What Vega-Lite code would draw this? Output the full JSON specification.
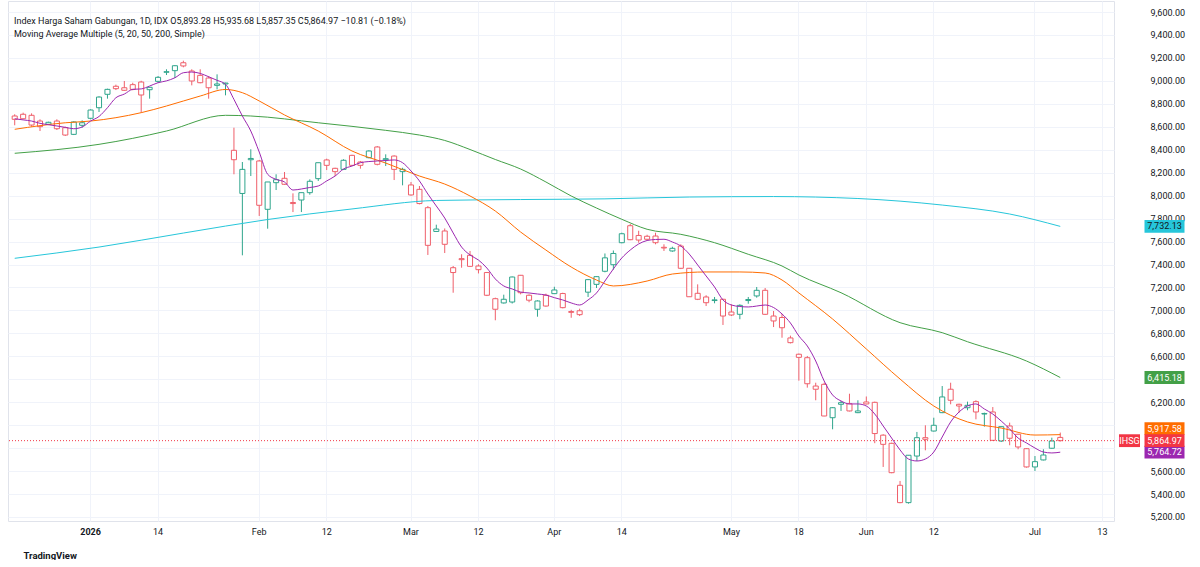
{
  "$schema": "https://vega.github.io/schema/vega-lite/v6.json",
  "background": "white",
  "padding": {"left": 7, "top": 0, "right": 0, "bottom": 0},
  "spacing": 0,
  "config": {"font": "Roboto", "view": {"stroke": null}},
  "resolve": {"scale": {"y": "shared", "color": "shared"}},
  "datasets": {
    "candles": [
      {"date":"2025-12-16","open":8694,"high":8709,"low":8613,"close":8665},
      {"date":"2025-12-17","open":8709,"high":8723,"low":8665,"close":8670},
      {"date":"2025-12-18","open":8700,"high":8717,"low":8601,"close":8615},
      {"date":"2025-12-19","open":8650,"high":8665,"low":8563,"close":8601},
      {"date":"2025-12-22","open":8622,"high":8644,"low":8615,"close":8639},
      {"date":"2025-12-23","open":8650,"high":8665,"low":8572,"close":8583},
      {"date":"2025-12-24","open":8592,"high":8601,"low":8520,"close":8528},
      {"date":"2025-12-29","open":8534,"high":8648,"low":8528,"close":8642},
      {"date":"2025-12-30","open":8613,"high":8656,"low":8592,"close":8635},
      {"date":"2026-01-02","open":8674,"high":8752,"low":8665,"close":8746},
      {"date":"2026-01-05","open":8766,"high":8866,"low":8729,"close":8859},
      {"date":"2026-01-06","open":8883,"high":8932,"low":8845,"close":8926},
      {"date":"2026-01-07","open":8953,"high":8967,"low":8920,"close":8932},
      {"date":"2026-01-08","open":8940,"high":8999,"low":8914,"close":8918},
      {"date":"2026-01-09","open":8967,"high":8984,"low":8918,"close":8926},
      {"date":"2026-01-12","open":8990,"high":9001,"low":8723,"close":8877},
      {"date":"2026-01-13","open":8923,"high":8947,"low":8845,"close":8944},
      {"date":"2026-01-14","open":8996,"high":9042,"low":8984,"close":9031},
      {"date":"2026-01-15","open":9075,"high":9101,"low":9051,"close":9080},
      {"date":"2026-01-19","open":9089,"high":9136,"low":9025,"close":9132},
      {"date":"2026-01-20","open":9158,"high":9176,"low":9118,"close":9130},
      {"date":"2026-01-21","open":9086,"high":9101,"low":8961,"close":8999},
      {"date":"2026-01-22","open":9048,"high":9101,"low":8979,"close":8984},
      {"date":"2026-01-23","open":9025,"high":9042,"low":8845,"close":8940},
      {"date":"2026-01-26","open":8961,"high":9057,"low":8926,"close":8973},
      {"date":"2026-01-27","open":8973,"high":8984,"low":8874,"close":8981},
      {"date":"2026-01-28","open":8395,"high":8592,"low":8186,"close":8313},
      {"date":"2026-01-29","open":8019,"high":8293,"low":7480,"close":8229},
      {"date":"2026-01-30","open":8313,"high":8404,"low":8171,"close":8324},
      {"date":"2026-02-02","open":8302,"high":8311,"low":7823,"close":7916},
      {"date":"2026-02-03","open":7881,"high":8119,"low":7712,"close":8119},
      {"date":"2026-02-04","open":8113,"high":8186,"low":8049,"close":8139},
      {"date":"2026-02-05","open":8151,"high":8206,"low":8093,"close":8099},
      {"date":"2026-02-06","open":7940,"high":8020,"low":7857,"close":7931},
      {"date":"2026-02-09","open":7962,"high":8026,"low":7857,"close":8026},
      {"date":"2026-02-10","open":8026,"high":8142,"low":8008,"close":8125},
      {"date":"2026-02-11","open":8148,"high":8287,"low":8128,"close":8287},
      {"date":"2026-02-12","open":8311,"high":8322,"low":8223,"close":8264},
      {"date":"2026-02-13","open":8238,"high":8243,"low":8171,"close":8209},
      {"date":"2026-02-18","open":8229,"high":8317,"low":8223,"close":8308},
      {"date":"2026-02-19","open":8351,"high":8356,"low":8258,"close":8264},
      {"date":"2026-02-20","open":8293,"high":8302,"low":8235,"close":8264},
      {"date":"2026-02-23","open":8331,"high":8395,"low":8325,"close":8389},
      {"date":"2026-02-24","open":8424,"high":8432,"low":8264,"close":8273},
      {"date":"2026-02-25","open":8313,"high":8360,"low":8258,"close":8322},
      {"date":"2026-02-26","open":8345,"high":8351,"low":8136,"close":8229},
      {"date":"2026-02-27","open":8209,"high":8243,"low":8090,"close":8229},
      {"date":"2026-03-02","open":8093,"high":8119,"low":8000,"close":8006},
      {"date":"2026-03-03","open":8055,"high":8084,"low":7924,"close":7931},
      {"date":"2026-03-04","open":7895,"high":7910,"low":7483,"close":7567},
      {"date":"2026-03-05","open":7688,"high":7747,"low":7684,"close":7709},
      {"date":"2026-03-06","open":7692,"high":7714,"low":7500,"close":7576},
      {"date":"2026-03-09","open":7372,"high":7387,"low":7154,"close":7330},
      {"date":"2026-03-10","open":7451,"high":7489,"low":7372,"close":7442},
      {"date":"2026-03-11","open":7480,"high":7518,"low":7378,"close":7384},
      {"date":"2026-03-12","open":7387,"high":7402,"low":7322,"close":7355},
      {"date":"2026-03-13","open":7330,"high":7335,"low":7125,"close":7132},
      {"date":"2026-03-16","open":7102,"high":7111,"low":6914,"close":7010},
      {"date":"2026-03-17","open":7065,"high":7137,"low":7060,"close":7097},
      {"date":"2026-03-25","open":7073,"high":7295,"low":7060,"close":7291},
      {"date":"2026-03-26","open":7306,"high":7309,"low":7140,"close":7154},
      {"date":"2026-03-27","open":7132,"high":7140,"low":7071,"close":7089},
      {"date":"2026-03-30","open":7010,"high":7088,"low":6945,"close":7082},
      {"date":"2026-03-31","open":7132,"high":7146,"low":7032,"close":7038},
      {"date":"2026-04-01","open":7146,"high":7206,"low":7143,"close":7178},
      {"date":"2026-04-02","open":7147,"high":7154,"low":7018,"close":7024},
      {"date":"2026-04-06","open":6990,"high":7005,"low":6936,"close":6983},
      {"date":"2026-04-07","open":6997,"high":7015,"low":6951,"close":6963},
      {"date":"2026-04-08","open":7159,"high":7274,"low":7117,"close":7268},
      {"date":"2026-04-09","open":7227,"high":7297,"low":7195,"close":7294},
      {"date":"2026-04-10","open":7341,"high":7496,"low":7332,"close":7458},
      {"date":"2026-04-13","open":7398,"high":7522,"low":7355,"close":7496},
      {"date":"2026-04-14","open":7590,"high":7677,"low":7585,"close":7668},
      {"date":"2026-04-15","open":7738,"high":7753,"low":7612,"close":7616},
      {"date":"2026-04-16","open":7653,"high":7694,"low":7590,"close":7613},
      {"date":"2026-04-17","open":7646,"high":7659,"low":7611,"close":7620},
      {"date":"2026-04-20","open":7648,"high":7677,"low":7576,"close":7590},
      {"date":"2026-04-21","open":7550,"high":7576,"low":7518,"close":7544},
      {"date":"2026-04-22","open":7518,"high":7555,"low":7511,"close":7541},
      {"date":"2026-04-23","open":7561,"high":7576,"low":7360,"close":7367},
      {"date":"2026-04-24","open":7367,"high":7370,"low":7117,"close":7119},
      {"date":"2026-04-27","open":7149,"high":7227,"low":7090,"close":7097},
      {"date":"2026-04-28","open":7117,"high":7132,"low":7038,"close":7067},
      {"date":"2026-04-29","open":7086,"high":7117,"low":7062,"close":7092},
      {"date":"2026-04-30","open":7097,"high":7100,"low":6873,"close":6951},
      {"date":"2026-05-04","open":6986,"high":7053,"low":6951,"close":6960},
      {"date":"2026-05-05","open":6966,"high":7053,"low":6923,"close":7044},
      {"date":"2026-05-06","open":7086,"high":7117,"low":7058,"close":7095},
      {"date":"2026-05-07","open":7126,"high":7204,"low":7111,"close":7175},
      {"date":"2026-05-08","open":7175,"high":7195,"low":6960,"close":6966},
      {"date":"2026-05-11","open":6951,"high":6995,"low":6855,"close":6908},
      {"date":"2026-05-12","open":6938,"high":6969,"low":6762,"close":6849},
      {"date":"2026-05-13","open":6760,"high":6780,"low":6712,"close":6719},
      {"date":"2026-05-18","open":6618,"high":6624,"low":6388,"close":6591},
      {"date":"2026-05-19","open":6588,"high":6603,"low":6327,"close":6361},
      {"date":"2026-05-20","open":6341,"high":6370,"low":6217,"close":6313},
      {"date":"2026-05-21","open":6356,"high":6370,"low":6078,"close":6080},
      {"date":"2026-05-22","open":6065,"high":6158,"low":5964,"close":6152},
      {"date":"2026-05-25","open":6182,"high":6211,"low":6124,"close":6196},
      {"date":"2026-05-26","open":6187,"high":6274,"low":6120,"close":6124},
      {"date":"2026-05-29","open":6109,"high":6217,"low":6105,"close":6124},
      {"date":"2026-06-02","open":6202,"high":6250,"low":6182,"close":6185},
      {"date":"2026-06-03","open":6199,"high":6205,"low":5843,"close":5927},
      {"date":"2026-06-04","open":5913,"high":5921,"low":5636,"close":5833},
      {"date":"2026-06-05","open":5842,"high":5847,"low":5581,"close":5586},
      {"date":"2026-06-08","open":5476,"high":5514,"low":5320,"close":5325},
      {"date":"2026-06-09","open":5325,"high":5740,"low":5316,"close":5738},
      {"date":"2026-06-10","open":5731,"high":5941,"low":5688,"close":5891},
      {"date":"2026-06-11","open":5891,"high":5999,"low":5781,"close":5877},
      {"date":"2026-06-12","open":5949,"high":6065,"low":5945,"close":5999},
      {"date":"2026-06-15","open":6109,"high":6341,"low":6105,"close":6246},
      {"date":"2026-06-16","open":6313,"high":6370,"low":6182,"close":6217},
      {"date":"2026-06-18","open":6182,"high":6187,"low":6109,"close":6167},
      {"date":"2026-06-19","open":6152,"high":6205,"low":6130,"close":6173},
      {"date":"2026-06-22","open":6205,"high":6217,"low":6051,"close":6115},
      {"date":"2026-06-23","open":6097,"high":6109,"low":5987,"close":6102},
      {"date":"2026-06-24","open":6115,"high":6158,"low":5865,"close":5868},
      {"date":"2026-06-25","open":5862,"high":5990,"low":5853,"close":5987},
      {"date":"2026-06-26","open":5993,"high":6022,"low":5825,"close":5886},
      {"date":"2026-06-29","open":5921,"high":5925,"low":5790,"close":5810},
      {"date":"2026-06-30","open":5795,"high":5800,"low":5630,"close":5636},
      {"date":"2026-07-01","open":5636,"high":5731,"low":5601,"close":5682},
      {"date":"2026-07-02","open":5697,"high":5790,"low":5693,"close":5740},
      {"date":"2026-07-03","open":5799,"high":5891,"low":5795,"close":5862},
      {"date":"2026-07-06","open":5893.28,"high":5935.68,"low":5857.35,"close":5864.97}
    ],
    "ma": [
      {"date":"2025-12-16","ma":"MA 200","value":7454},
      {"date":"2026-01-05","ma":"MA 200","value":7552},
      {"date":"2026-01-20","ma":"MA 200","value":7674},
      {"date":"2026-02-03","ma":"MA 200","value":7792},
      {"date":"2026-02-19","ma":"MA 200","value":7884},
      {"date":"2026-03-05","ma":"MA 200","value":7958},
      {"date":"2026-03-26","ma":"MA 200","value":7966},
      {"date":"2026-04-10","ma":"MA 200","value":7972},
      {"date":"2026-04-24","ma":"MA 200","value":7988},
      {"date":"2026-05-11","ma":"MA 200","value":7992},
      {"date":"2026-05-29","ma":"MA 200","value":7975},
      {"date":"2026-06-15","ma":"MA 200","value":7918},
      {"date":"2026-06-26","ma":"MA 200","value":7840},
      {"date":"2026-07-06","ma":"MA 200","value":7732.13},

      {"date":"2025-12-16","ma":"MA 50","value":8369},
      {"date":"2026-01-05","ma":"MA 50","value":8447},
      {"date":"2026-01-15","ma":"MA 50","value":8563},
      {"date":"2026-01-27","ma":"MA 50","value":8700},
      {"date":"2026-01-30","ma":"MA 50","value":8694},
      {"date":"2026-02-11","ma":"MA 50","value":8635},
      {"date":"2026-02-25","ma":"MA 50","value":8569},
      {"date":"2026-03-03","ma":"MA 50","value":8528},
      {"date":"2026-03-06","ma":"MA 50","value":8481},
      {"date":"2026-03-11","ma":"MA 50","value":8402},
      {"date":"2026-03-16","ma":"MA 50","value":8315},
      {"date":"2026-03-26","ma":"MA 50","value":8232},
      {"date":"2026-03-31","ma":"MA 50","value":8119},
      {"date":"2026-04-06","ma":"MA 50","value":7997},
      {"date":"2026-04-09","ma":"MA 50","value":7892},
      {"date":"2026-04-14","ma":"MA 50","value":7794},
      {"date":"2026-04-17","ma":"MA 50","value":7707},
      {"date":"2026-04-23","ma":"MA 50","value":7663},
      {"date":"2026-04-29","ma":"MA 50","value":7590},
      {"date":"2026-05-06","ma":"MA 50","value":7489},
      {"date":"2026-05-12","ma":"MA 50","value":7387},
      {"date":"2026-05-18","ma":"MA 50","value":7309},
      {"date":"2026-05-25","ma":"MA 50","value":7154},
      {"date":"2026-06-08","ma":"MA 50","value":6893},
      {"date":"2026-06-15","ma":"MA 50","value":6806},
      {"date":"2026-06-19","ma":"MA 50","value":6727},
      {"date":"2026-06-30","ma":"MA 50","value":6559},
      {"date":"2026-07-06","ma":"MA 50","value":6415.18},

      {"date":"2025-12-16","ma":"MA 20","value":8578},
      {"date":"2025-12-24","ma":"MA 20","value":8635},
      {"date":"2026-01-02","ma":"MA 20","value":8650},
      {"date":"2026-01-12","ma":"MA 20","value":8723},
      {"date":"2026-01-15","ma":"MA 20","value":8781},
      {"date":"2026-01-22","ma":"MA 20","value":8868},
      {"date":"2026-01-27","ma":"MA 20","value":8925},
      {"date":"2026-01-29","ma":"MA 20","value":8897},
      {"date":"2026-02-02","ma":"MA 20","value":8825},
      {"date":"2026-02-05","ma":"MA 20","value":8703},
      {"date":"2026-02-11","ma":"MA 20","value":8563},
      {"date":"2026-02-19","ma":"MA 20","value":8389},
      {"date":"2026-02-25","ma":"MA 20","value":8284},
      {"date":"2026-03-03","ma":"MA 20","value":8171},
      {"date":"2026-03-06","ma":"MA 20","value":8101},
      {"date":"2026-03-11","ma":"MA 20","value":7997},
      {"date":"2026-03-16","ma":"MA 20","value":7866},
      {"date":"2026-03-26","ma":"MA 20","value":7683},
      {"date":"2026-03-31","ma":"MA 20","value":7526},
      {"date":"2026-04-06","ma":"MA 20","value":7378},
      {"date":"2026-04-09","ma":"MA 20","value":7265},
      {"date":"2026-04-13","ma":"MA 20","value":7213},
      {"date":"2026-04-17","ma":"MA 20","value":7256},
      {"date":"2026-04-22","ma":"MA 20","value":7317},
      {"date":"2026-04-28","ma":"MA 20","value":7335},
      {"date":"2026-05-05","ma":"MA 20","value":7335},
      {"date":"2026-05-08","ma":"MA 20","value":7326},
      {"date":"2026-05-12","ma":"MA 20","value":7265},
      {"date":"2026-05-18","ma":"MA 20","value":7152},
      {"date":"2026-05-22","ma":"MA 20","value":6925},
      {"date":"2026-06-02","ma":"MA 20","value":6664},
      {"date":"2026-06-08","ma":"MA 20","value":6402},
      {"date":"2026-06-12","ma":"MA 20","value":6167},
      {"date":"2026-06-19","ma":"MA 20","value":6028},
      {"date":"2026-06-25","ma":"MA 20","value":5975},
      {"date":"2026-07-01","ma":"MA 20","value":5914},
      {"date":"2026-07-06","ma":"MA 20","value":5917.58},

      {"date":"2025-12-16","ma":"MA 5","value":8670},
      {"date":"2025-12-17","ma":"MA 5","value":8660},
      {"date":"2025-12-18","ma":"MA 5","value":8650},
      {"date":"2025-12-19","ma":"MA 5","value":8630},
      {"date":"2025-12-22","ma":"MA 5","value":8618},
      {"date":"2025-12-23","ma":"MA 5","value":8607},
      {"date":"2025-12-24","ma":"MA 5","value":8595},
      {"date":"2025-12-29","ma":"MA 5","value":8583},
      {"date":"2025-12-30","ma":"MA 5","value":8598},
      {"date":"2026-01-02","ma":"MA 5","value":8650},
      {"date":"2026-01-05","ma":"MA 5","value":8690},
      {"date":"2026-01-06","ma":"MA 5","value":8766},
      {"date":"2026-01-07","ma":"MA 5","value":8853},
      {"date":"2026-01-08","ma":"MA 5","value":8885},
      {"date":"2026-01-09","ma":"MA 5","value":8926},
      {"date":"2026-01-12","ma":"MA 5","value":8930},
      {"date":"2026-01-13","ma":"MA 5","value":8955},
      {"date":"2026-01-14","ma":"MA 5","value":8984},
      {"date":"2026-01-15","ma":"MA 5","value":9000},
      {"date":"2026-01-19","ma":"MA 5","value":9027},
      {"date":"2026-01-20","ma":"MA 5","value":9071},
      {"date":"2026-01-21","ma":"MA 5","value":9077},
      {"date":"2026-01-22","ma":"MA 5","value":9065},
      {"date":"2026-01-23","ma":"MA 5","value":9036},
      {"date":"2026-01-26","ma":"MA 5","value":9005},
      {"date":"2026-01-27","ma":"MA 5","value":8970},
      {"date":"2026-01-28","ma":"MA 5","value":8839},
      {"date":"2026-01-29","ma":"MA 5","value":8694},
      {"date":"2026-01-30","ma":"MA 5","value":8563},
      {"date":"2026-02-02","ma":"MA 5","value":8380},
      {"date":"2026-02-03","ma":"MA 5","value":8186},
      {"date":"2026-02-04","ma":"MA 5","value":8142},
      {"date":"2026-02-05","ma":"MA 5","value":8119},
      {"date":"2026-02-06","ma":"MA 5","value":8049},
      {"date":"2026-02-09","ma":"MA 5","value":8058},
      {"date":"2026-02-10","ma":"MA 5","value":8071},
      {"date":"2026-02-11","ma":"MA 5","value":8084},
      {"date":"2026-02-12","ma":"MA 5","value":8128},
      {"date":"2026-02-13","ma":"MA 5","value":8171},
      {"date":"2026-02-18","ma":"MA 5","value":8232},
      {"date":"2026-02-19","ma":"MA 5","value":8258},
      {"date":"2026-02-20","ma":"MA 5","value":8287},
      {"date":"2026-02-23","ma":"MA 5","value":8297},
      {"date":"2026-02-24","ma":"MA 5","value":8302},
      {"date":"2026-02-25","ma":"MA 5","value":8306},
      {"date":"2026-02-26","ma":"MA 5","value":8311},
      {"date":"2026-02-27","ma":"MA 5","value":8287},
      {"date":"2026-03-02","ma":"MA 5","value":8215},
      {"date":"2026-03-03","ma":"MA 5","value":8128},
      {"date":"2026-03-04","ma":"MA 5","value":8014},
      {"date":"2026-03-05","ma":"MA 5","value":7910},
      {"date":"2026-03-06","ma":"MA 5","value":7805},
      {"date":"2026-03-09","ma":"MA 5","value":7675},
      {"date":"2026-03-10","ma":"MA 5","value":7552},
      {"date":"2026-03-11","ma":"MA 5","value":7483},
      {"date":"2026-03-12","ma":"MA 5","value":7439},
      {"date":"2026-03-13","ma":"MA 5","value":7369},
      {"date":"2026-03-16","ma":"MA 5","value":7274},
      {"date":"2026-03-17","ma":"MA 5","value":7213},
      {"date":"2026-03-25","ma":"MA 5","value":7187},
      {"date":"2026-03-26","ma":"MA 5","value":7160},
      {"date":"2026-03-27","ma":"MA 5","value":7152},
      {"date":"2026-03-30","ma":"MA 5","value":7143},
      {"date":"2026-03-31","ma":"MA 5","value":7134},
      {"date":"2026-04-01","ma":"MA 5","value":7111},
      {"date":"2026-04-02","ma":"MA 5","value":7091},
      {"date":"2026-04-06","ma":"MA 5","value":7065},
      {"date":"2026-04-07","ma":"MA 5","value":7047},
      {"date":"2026-04-08","ma":"MA 5","value":7091},
      {"date":"2026-04-09","ma":"MA 5","value":7152},
      {"date":"2026-04-10","ma":"MA 5","value":7256},
      {"date":"2026-04-13","ma":"MA 5","value":7361},
      {"date":"2026-04-14","ma":"MA 5","value":7457},
      {"date":"2026-04-15","ma":"MA 5","value":7526},
      {"date":"2026-04-16","ma":"MA 5","value":7579},
      {"date":"2026-04-17","ma":"MA 5","value":7609},
      {"date":"2026-04-20","ma":"MA 5","value":7618},
      {"date":"2026-04-21","ma":"MA 5","value":7620},
      {"date":"2026-04-22","ma":"MA 5","value":7596},
      {"date":"2026-04-23","ma":"MA 5","value":7561},
      {"date":"2026-04-24","ma":"MA 5","value":7491},
      {"date":"2026-04-27","ma":"MA 5","value":7396},
      {"date":"2026-04-28","ma":"MA 5","value":7300},
      {"date":"2026-04-29","ma":"MA 5","value":7204},
      {"date":"2026-04-30","ma":"MA 5","value":7091},
      {"date":"2026-05-04","ma":"MA 5","value":7047},
      {"date":"2026-05-05","ma":"MA 5","value":7034},
      {"date":"2026-05-06","ma":"MA 5","value":7030},
      {"date":"2026-05-07","ma":"MA 5","value":7038},
      {"date":"2026-05-08","ma":"MA 5","value":7047},
      {"date":"2026-05-11","ma":"MA 5","value":7025},
      {"date":"2026-05-12","ma":"MA 5","value":6969},
      {"date":"2026-05-13","ma":"MA 5","value":6890},
      {"date":"2026-05-18","ma":"MA 5","value":6777},
      {"date":"2026-05-19","ma":"MA 5","value":6690},
      {"date":"2026-05-20","ma":"MA 5","value":6559},
      {"date":"2026-05-21","ma":"MA 5","value":6385},
      {"date":"2026-05-22","ma":"MA 5","value":6263},
      {"date":"2026-05-25","ma":"MA 5","value":6211},
      {"date":"2026-05-26","ma":"MA 5","value":6185},
      {"date":"2026-05-29","ma":"MA 5","value":6185},
      {"date":"2026-06-02","ma":"MA 5","value":6167},
      {"date":"2026-06-03","ma":"MA 5","value":6097},
      {"date":"2026-06-04","ma":"MA 5","value":5993},
      {"date":"2026-06-05","ma":"MA 5","value":5888},
      {"date":"2026-06-08","ma":"MA 5","value":5784},
      {"date":"2026-06-09","ma":"MA 5","value":5705},
      {"date":"2026-06-10","ma":"MA 5","value":5688},
      {"date":"2026-06-11","ma":"MA 5","value":5705},
      {"date":"2026-06-12","ma":"MA 5","value":5766},
      {"date":"2026-06-15","ma":"MA 5","value":5897},
      {"date":"2026-06-16","ma":"MA 5","value":6028},
      {"date":"2026-06-18","ma":"MA 5","value":6115},
      {"date":"2026-06-19","ma":"MA 5","value":6167},
      {"date":"2026-06-22","ma":"MA 5","value":6185},
      {"date":"2026-06-23","ma":"MA 5","value":6141},
      {"date":"2026-06-24","ma":"MA 5","value":6097},
      {"date":"2026-06-25","ma":"MA 5","value":6036},
      {"date":"2026-06-26","ma":"MA 5","value":5967},
      {"date":"2026-06-29","ma":"MA 5","value":5888},
      {"date":"2026-06-30","ma":"MA 5","value":5845},
      {"date":"2026-07-01","ma":"MA 5","value":5801},
      {"date":"2026-07-02","ma":"MA 5","value":5766},
      {"date":"2026-07-03","ma":"MA 5","value":5758},
      {"date":"2026-07-06","ma":"MA 5","value":5764.72}
    ]
  },
  "hconcat": [
    {
      "width": 1106,
      "height": 520,
      "view": {"stroke": "#e0e3eb"},
      "title": {
        "text": "Index Harga Saham Gabungan, 1D, IDX  O5,893.28 H5,935.68 L5,857.35 C5,864.97 −10.81 (−0.18%)",
        "subtitle": "Moving Average Multiple (5, 20, 50, 200, Simple)",
        "anchor": "start",
        "frame": "group",
        "offset": -38,
        "dx": 6,
        "font": "Roboto",
        "subtitleFont": "Roboto",
        "fontSize": 9,
        "subtitleFontSize": 9,
        "fontWeight": "normal",
        "color": "#131722",
        "subtitleColor": "#131722",
        "subtitlePadding": 4
      },
      "layer": [
        {
          "data": {"name": "candles"},
          "mark": {"type": "rule", "strokeWidth": 1},
          "encoding": {
            "x": {
              "field": "date",
              "type": "ordinal",
              "scale": {
                "type": "band",
                "paddingInner": 0.4,
                "paddingOuter": 0.285,
                "align": 0.87,
                "domain": ["2025-12-16","2025-12-17","2025-12-18","2025-12-19","2025-12-22","2025-12-23","2025-12-24","2025-12-29","2025-12-30","2026-01-02","2026-01-05","2026-01-06","2026-01-07","2026-01-08","2026-01-09","2026-01-12","2026-01-13","2026-01-14","2026-01-15","2026-01-19","2026-01-20","2026-01-21","2026-01-22","2026-01-23","2026-01-26","2026-01-27","2026-01-28","2026-01-29","2026-01-30","2026-02-02","2026-02-03","2026-02-04","2026-02-05","2026-02-06","2026-02-09","2026-02-10","2026-02-11","2026-02-12","2026-02-13","2026-02-18","2026-02-19","2026-02-20","2026-02-23","2026-02-24","2026-02-25","2026-02-26","2026-02-27","2026-03-02","2026-03-03","2026-03-04","2026-03-05","2026-03-06","2026-03-09","2026-03-10","2026-03-11","2026-03-12","2026-03-13","2026-03-16","2026-03-17","2026-03-25","2026-03-26","2026-03-27","2026-03-30","2026-03-31","2026-04-01","2026-04-02","2026-04-06","2026-04-07","2026-04-08","2026-04-09","2026-04-10","2026-04-13","2026-04-14","2026-04-15","2026-04-16","2026-04-17","2026-04-20","2026-04-21","2026-04-22","2026-04-23","2026-04-24","2026-04-27","2026-04-28","2026-04-29","2026-04-30","2026-05-04","2026-05-05","2026-05-06","2026-05-07","2026-05-08","2026-05-11","2026-05-12","2026-05-13","2026-05-18","2026-05-19","2026-05-20","2026-05-21","2026-05-22","2026-05-25","2026-05-26","2026-05-29","2026-06-02","2026-06-03","2026-06-04","2026-06-05","2026-06-08","2026-06-09","2026-06-10","2026-06-11","2026-06-12","2026-06-15","2026-06-16","2026-06-18","2026-06-19","2026-06-22","2026-06-23","2026-06-24","2026-06-25","2026-06-26","2026-06-29","2026-06-30","2026-07-01","2026-07-02","2026-07-03","2026-07-06","2026-07-07","2026-07-08","2026-07-09","2026-07-10","2026-07-13","2026-07-14"]
              },
              "axis": {
                "values": ["2026-01-02","2026-01-14","2026-02-02","2026-02-12","2026-03-02","2026-03-12","2026-04-01","2026-04-14","2026-05-04","2026-05-18","2026-06-02","2026-06-12","2026-07-01","2026-07-13"],
                "labelExpr": "datum.value == '2026-01-02' ? '2026' : (toNumber(slice(datum.value, 8)) < 10 ? ['Jan','Feb','Mar','Apr','May','Jun','Jul','Aug'][toNumber(slice(datum.value, 5, 7)) - 1] : slice(datum.value, 8))",
                "labelFontWeight": {"condition": {"test": "datum.value == '2026-01-02'", "value": "bold"}, "value": "normal"},
                "labelAngle": 0,
                "labelFontSize": 9,
                "labelColor": "#131722",
                "labelPadding": 6,
                "ticks": false,
                "domain": false,
                "grid": true,
                "gridColor": "#f0f3fa",
                "bandPosition": 0.5,
                "title": "TradingView",
                "titleFontSize": 9.5,
                "titleFontWeight": "bold",
                "titleColor": "#131722",
                "titleAnchor": "start",
                "titleAlign": "left",
                "titleBaseline": "middle",
                "titleX": 15,
                "titleY": 34
              }
            },
            "y": {
              "field": "low",
              "type": "quantitative",
              "scale": {"domain": [5165, 9696], "nice": false, "zero": false},
              "axis": {
                "orient": "right",
                "values": [5200,5400,5600,5800,6000,6200,6400,6600,6800,7000,7200,7400,7600,7800,8000,8200,8400,8600,8800,9000,9200,9400,9600],
                "tickCount": 40,
                "labels": false,
                "ticks": false,
                "domain": false,
                "title": null,
                "grid": true,
                "gridColor": "#f0f3fa"
              }
            },
            "y2": {"field": "high"},
            "color": {"condition": {"test": "datum.close >= datum.open", "value": "#2fa58c"}, "value": "#ef5f6a"}
          }
        },
        {
          "data": {"name": "candles"},
          "mark": {"type": "bar", "fill": "white", "strokeWidth": 1},
          "encoding": {
            "x": {"field": "date", "type": "ordinal"},
            "y": {"field": "open", "type": "quantitative"},
            "y2": {"field": "close"},
            "stroke": {"condition": {"test": "datum.close >= datum.open", "value": "#2fa58c"}, "value": "#ef5f6a"}
          }
        },
        {
          "data": {"name": "ma"},
          "mark": {"type": "line", "strokeWidth": 1, "interpolate": "monotone"},
          "encoding": {
            "x": {"field": "date", "type": "ordinal"},
            "y": {"field": "value", "type": "quantitative"},
            "color": {
              "field": "ma",
              "type": "nominal",
              "scale": {"domain": ["MA 5","MA 20","MA 50","MA 200"], "range": ["#9c27b0","#ff6d00","#43a047","#26c6da"]},
              "legend": null
            }
          }
        },
        {
          "data": {"name": "candles"},
          "transform": [{"filter": "datum.date == '2026-07-06'"}],
          "mark": {"type": "rule", "color": "#f23645", "strokeDash": [1, 2], "strokeWidth": 1},
          "encoding": {"y": {"field": "close", "type": "quantitative"}}
        }
      ]
    },
    {
      "width": 87,
      "height": 520,
      "layer": [
        {
          "data": {"name": "ma"},
          "transform": [{"filter": "datum.date == '2026-07-06'"}],
          "mark": {"type": "point", "filled": true, "opacity": 1, "size": 1600, "strokeWidth": 0},
          "encoding": {
            "y": {
              "field": "value",
              "type": "quantitative",
              "scale": {"domain": [5165, 9696], "nice": false, "zero": false},
              "axis": {
                "orient": "right",
                "values": [5200,5400,5600,6200,6600,6800,7000,7200,7400,7600,7800,8000,8200,8400,8600,8800,9000,9200,9400,9600],
                "tickCount": 40,
                "format": ",.2f",
                "labelPadding": -52,
                "labelAlign": "left",
                "labelFontSize": 9,
                "labelColor": "#131722",
                "labelOverlap": false,
                "labelFlush": false,
                "ticks": false,
                "tickSize": 0,
                "domain": false,
                "grid": false,
                "title": null
              }
            },
            "color": {
              "field": "ma",
              "type": "nominal",
              "scale": {"domain": ["MA 5","MA 20","MA 50","MA 200"], "range": ["#9c27b0","#ff6d00","#43a047","#26c6da"]},
              "legend": null
            },
            "shape": {
              "field": "ma",
              "type": "nominal",
              "scale": {"domain": ["MA 5","MA 20","MA 50","MA 200"], "range": ["M-0.7,-0.32H1.3V0.32H-0.7Z","M-0.7,-0.62H1.3V0.02H-0.7Z","M-0.7,-0.32H1.3V0.32H-0.7Z","M-0.7,-0.32H1.3V0.32H-0.7Z"]},
              "legend": null
            }
          }
        },
        {
          "data": {"name": "ma"},
          "transform": [{"filter": "datum.date == '2026-07-06' && datum.ma != 'MA 20'"}],
          "mark": {"type": "text", "fontSize": 9, "dx": 6, "baseline": "middle", "align": "center"},
          "encoding": {
            "y": {"field": "value", "type": "quantitative"},
            "text": {"field": "value", "type": "quantitative", "format": ",.2f"},
            "color": {"condition": {"test": "datum.ma == 'MA 200'", "value": "#131722"}, "value": "white"}
          }
        },
        {
          "data": {"name": "ma"},
          "transform": [{"filter": "datum.date == '2026-07-06' && datum.ma == 'MA 20'"}],
          "mark": {"type": "text", "fontSize": 9, "dx": 6, "dy": -6, "baseline": "middle", "align": "center", "color": "white"},
          "encoding": {
            "y": {"field": "value", "type": "quantitative"},
            "text": {"field": "value", "type": "quantitative", "format": ",.2f"}
          }
        },
        {
          "data": {"name": "candles"},
          "transform": [{"filter": "datum.date == '2026-07-06'"}],
          "mark": {"type": "point", "filled": true, "opacity": 1, "size": 1600, "strokeWidth": 0, "color": "#f23645", "shape": "M-0.7,-0.32H1.3V0.32H-0.7Z"},
          "encoding": {"y": {"field": "close", "type": "quantitative"}}
        },
        {
          "data": {"name": "candles"},
          "transform": [{"filter": "datum.date == '2026-07-06'"}],
          "mark": {"type": "point", "filled": true, "opacity": 1, "size": 1600, "strokeWidth": 0, "color": "#f23645", "shape": "M-1.975,-0.32H-0.925V0.32H-1.975Z"},
          "encoding": {"y": {"field": "close", "type": "quantitative"}}
        },
        {
          "data": {"name": "candles"},
          "transform": [{"filter": "datum.date == '2026-07-06'"}],
          "mark": {"type": "text", "fontSize": 9, "dx": 6, "baseline": "middle", "align": "center", "color": "white"},
          "encoding": {
            "y": {"field": "close", "type": "quantitative"},
            "text": {"field": "close", "type": "quantitative", "format": ",.2f"}
          }
        },
        {
          "data": {"name": "candles"},
          "transform": [{"filter": "datum.date == '2026-07-06'"}],
          "mark": {"type": "text", "fontSize": 9, "dx": -29, "baseline": "middle", "align": "center", "color": "white"},
          "encoding": {
            "y": {"field": "close", "type": "quantitative"},
            "text": {"value": "IHSG"}
          }
        }
      ]
    }
  ]
}
